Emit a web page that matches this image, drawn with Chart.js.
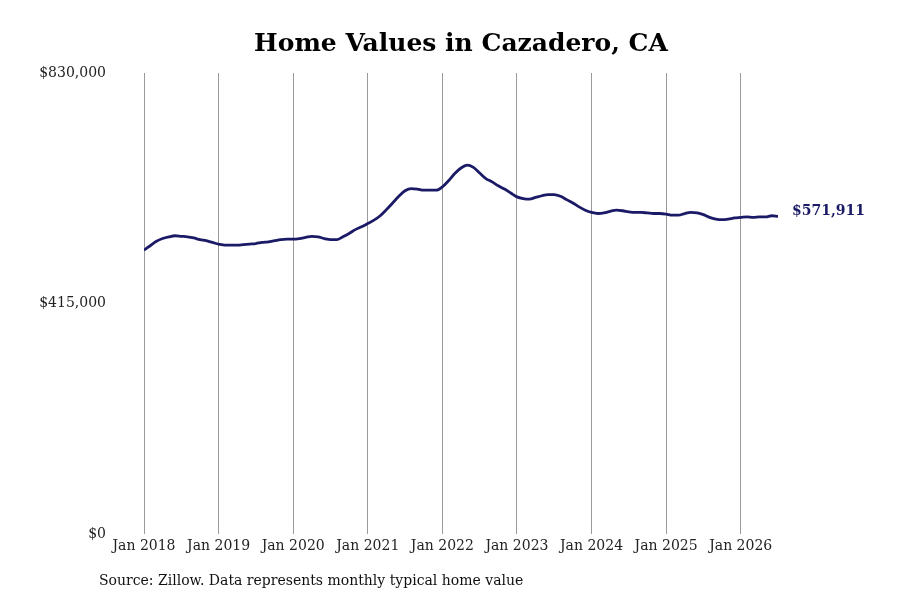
<!DOCTYPE html>
<html>
<head>
<meta charset="utf-8">
<script src="https://cdn.jsdelivr.net/npm/chart.js@4.4.1/dist/chart.umd.min.js"></script>
<style>
  body { margin: 0; background: #fff; }
  #wrap { width: 900px; height: 600px; }
</style>
</head>
<body>
<div id="wrap"><canvas id="myChart"></canvas></div>
<script>
// monthly typical home value, Jan 2018 .. Jul 2026
var values2018 = [511000, 519000, 527000, 532000, 535000, 537000, 536000, 535000, 533000, 530000, 528000, 525000];
var values2019 = [522000, 520000, 520000, 520000, 521000, 522000, 523000, 525000, 526000, 528000, 530000, 531000];
var values2020 = [531000, 532000, 534000, 536000, 535000, 532000, 530000, 530000, 535000, 541000, 548000, 553000];
var values2021 = [559000, 565000, 573000, 584000, 596000, 608000, 618000, 622000, 621000, 619000, 619000, 619000];
var values2022 = [625000, 636000, 649000, 659000, 664000, 660000, 650000, 640000, 634000, 627000, 621000, 614000];
var values2023 = [607000, 604000, 603000, 606000, 609000, 611000, 611000, 608000, 602000, 596000, 589000, 583000];
var values2024 = [579000, 577000, 578000, 581000, 583000, 582000, 580000, 579000, 579000, 578000, 577000, 577000];
var values2025 = [576000, 574000, 574000, 577000, 579000, 578000, 575000, 570000, 567000, 566000, 567000, 569000];
var values2026 = [570000, 571000, 570000, 571000, 571000, 573000, 571911];

var tickLabels = ["Jan 2018", "Jan 2019", "Jan 2020", "Jan 2021", "Jan 2022",
                  "Jan 2023", "Jan 2024", "Jan 2025", "Jan 2026"];
var yTicks = [0, 415000, 830000];

var allValues = [].concat(values2018, values2019, values2020, values2021, values2022,
                          values2023, values2024, values2025, values2026);
var points = allValues.map(function (v, i) { return { x: i, y: v }; });

var lineColor = "#1b1a66";

function money(v) {
  return "$" + Number(v).toLocaleString("en-US");
}

// title sits a bit right of the canvas centre, so draw it ourselves
var titleText = {
  id: "titleText",
  afterDraw: function (chart) {
    var c = chart.ctx;
    c.save();
    c.font = "bold 25px 'DejaVu Serif'";
    c.fillStyle = "#000";
    c.textBaseline = "middle";
    c.textAlign = "center";
    c.fillText("Home Values in Cazadero, CA", 461, 44);
    c.restore();
  },
};

var endLabel = {
  id: "endLabel",
  afterDatasetsDraw: function (chart) {
    var meta = chart.getDatasetMeta(0);
    var last = meta.data[meta.data.length - 1];
    var c = chart.ctx;
    c.save();
    c.font = "bold 14px 'DejaVu Serif'";
    c.fillStyle = lineColor;
    c.textBaseline = "middle";
    c.textAlign = "left";
    c.fillText(money(allValues[allValues.length - 1]), last.x + 14, last.y - 5);
    c.restore();
  },
};

var sourceNote = {
  id: "sourceNote",
  afterDraw: function (chart) {
    var c = chart.ctx;
    c.save();
    c.font = "14px 'DejaVu Serif'";
    c.fillStyle = "#111";
    c.textBaseline = "middle";
    c.textAlign = "left";
    c.fillText("Source: Zillow. Data represents monthly typical home value", 99, 581);
    c.restore();
  },
};

Chart.defaults.font.family = "'DejaVu Serif', serif";
Chart.defaults.color = "#222";

var ctx = document.getElementById("myChart").getContext("2d");
var myChart = new Chart(ctx, {
  type: "line",
  data: {
    datasets: [
      {
        label: "Home value",
        data: points,
        borderColor: lineColor,
        borderWidth: 2.8,
        pointRadius: 0,
        cubicInterpolationMode: "monotone",
        fill: false,
      },
    ],
  },
  options: {
    responsive: true,
    maintainAspectRatio: false,
    animation: false,
    layout: { padding: { left: 0, right: 122, top: 73, bottom: 0 } },
    plugins: {
      legend: { display: false },
      tooltip: { enabled: false },
      title: { display: false },
    },
    scales: {
      x: {
        type: "linear",
        min: 0,
        max: allValues.length - 1,
        grid: { color: "#9a9a9a", lineWidth: 1, drawTicks: false },
        border: { display: false },
        ticks: {
          stepSize: 12,
          includeBounds: false,
          autoSkip: false,
          maxRotation: 0,
          padding: 4,
          font: { size: 14 },
          callback: function (v) { return tickLabels[v / 12]; },
        },
        afterFit: function (axis) { axis.height = 66; },
      },
      y: {
        min: yTicks[0],
        max: yTicks[yTicks.length - 1],
        grid: { display: false, drawTicks: false },
        border: { display: false },
        afterBuildTicks: function (axis) {
          axis.ticks = yTicks.map(function (v) { return { value: v }; });
        },
        ticks: {
          padding: 38,
          font: { size: 14 },
          callback: function (v) { return money(v); },
        },
        afterFit: function (axis) { axis.width = 144; },
      },
    },
  },
  plugins: [titleText, endLabel, sourceNote],
});
</script>
</body>
</html>
